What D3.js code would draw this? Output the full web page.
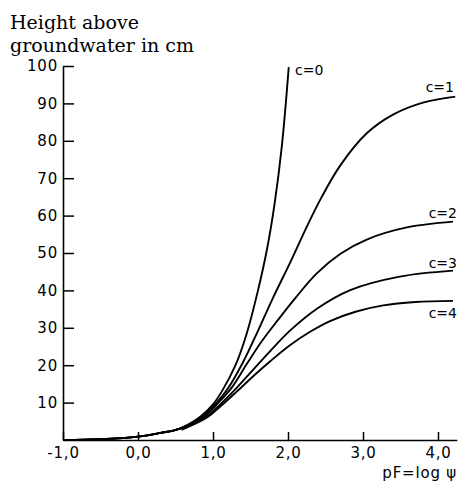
<!DOCTYPE html>
<html><head><meta charset="utf-8">
<script src="https://cdn.jsdelivr.net/npm/d3@7"></script>
<style>body{margin:0;background:#fff}svg{display:block}</style>
</head><body>
<script>
// data (pF, height in cm)
const xTicks = [-1, 0, 1, 2, 3, 4];
const yTicks = [10, 20, 30, 40, 50, 60, 70, 80, 90, 100];
const seriesNames = ["c=0", "c=1", "c=2", "c=3", "c=4"];
const c0 = [[-1,0],[-0.5,0.2],[0,0.9],[0.3,1.9],[0.55,3.0],[0.83,6.2],[1.0,9.5],[1.13,13.4],[1.3,20],[1.45,28.5],[1.6,40],[1.72,51],[1.82,63],[1.92,79],[2.01,99.7]];
const c1 = [[-1,0],[-0.5,0.2],[0,0.9],[0.3,1.9],[0.55,3.0],[0.85,6.2],[1.05,10],[1.2,13.8],[1.4,20.8],[1.6,29.2],[1.8,38],[2.03,47.5],[2.25,57],[2.45,65],[2.7,73.5],[3.05,82],[3.4,87],[3.8,90.2],[4.23,91.8]];
const c2 = [[-1,0],[-0.5,0.2],[0,0.9],[0.3,1.9],[0.55,3.0],[0.88,6.2],[1.05,9.5],[1.25,14],[1.45,20.3],[1.65,26.4],[1.87,32.2],[2.1,38],[2.38,44.5],[2.7,49.8],[3.05,53.6],[3.6,56.9],[4.2,58.4]];
const c3 = [[-1,0],[-0.5,0.2],[0,0.9],[0.3,1.9],[0.55,3.0],[0.9,6.0],[1.1,9.6],[1.3,13.6],[1.5,18],[1.75,23.5],[2.03,29.3],[2.4,35.3],[2.83,40.1],[3.49,43.7],[4.2,45.3]];
const c4 = [[0.58,2.7],[0.92,6.0],[1.1,9.0],[1.32,13],[1.55,17.3],[1.76,21],[2.03,25.4],[2.3,29],[2.56,31.8],[2.9,34.3],[3.27,36],[3.7,36.9],[4.2,37.2]];
const allSeries = [c0, c1, c2, c3, c4];

const W = 461, H = 483;
const svg = d3.select("body").append("svg").attr("width", W).attr("height", H);
const x = d3.scaleLinear().domain([-1, 4.25]).range([63, 456.75]);
const y = d3.scaleLinear().domain([0, 100]).range([440, 66]);

const sans = "'DejaVu Sans', sans-serif";

// axes
const fmtX = d => d3.format(".1f")(d).replace(".", ",").replace("\u2212", "-");
const gx = svg.append("g").attr("transform", "translate(0,440)")
  .call(d3.axisBottom(x).tickValues(xTicks).tickSizeInner(-8).tickSizeOuter(0).tickPadding(7).tickFormat(fmtX));
const gy = svg.append("g").attr("transform", "translate(63,0)")
  .call(d3.axisLeft(y).tickValues(yTicks).tickSizeInner(-11).tickSizeOuter(0).tickPadding(5));
[gx, gy].forEach(g => {
  g.select(".domain").attr("stroke", "#000").attr("stroke-width", 1.6);
  g.selectAll(".tick line").attr("stroke", "#000").attr("stroke-width", 1.5);
  g.selectAll(".tick text").attr("fill", "#000").style("font-family", sans).style("font-size", "15px").style("letter-spacing", "0.8px");
});

// curves
const line = d3.line().x(d => x(d[0])).y(d => y(d[1])).curve(d3.curveCatmullRom.alpha(0.5));
svg.append("g").selectAll("path").data(allSeries).join("path")
  .attr("d", line).attr("fill", "none").attr("stroke", "#000").attr("stroke-width", 1.9);

// curve labels
const labelPos = [[295, 75, "start"], [454, 92, "end"], [457, 218, "end"], [457, 268, "end"], [457, 318, "end"]];
svg.append("g").selectAll("text").data(seriesNames).join("text")
  .attr("x", (d, i) => labelPos[i][0]).attr("y", (d, i) => labelPos[i][1])
  .attr("text-anchor", (d, i) => labelPos[i][2])
  .style("font-family", sans).style("font-size", "14px").text(d => d);

// titles
const serif = "'DejaVu Serif', serif";
svg.append("text").attr("x", 10).attr("y", 29).style("font-family", serif).style("font-size", "19px").text("Height above");
svg.append("text").attr("x", 10).attr("y", 52).style("font-family", serif).style("font-size", "19px").text("groundwater in cm");
svg.append("text").attr("x", 457).attr("y", 478).attr("text-anchor", "end")
  .style("font-family", sans).style("font-size", "15px").style("letter-spacing", "0.8px").text("pF=log \u03C8");
</script>
</body></html>
